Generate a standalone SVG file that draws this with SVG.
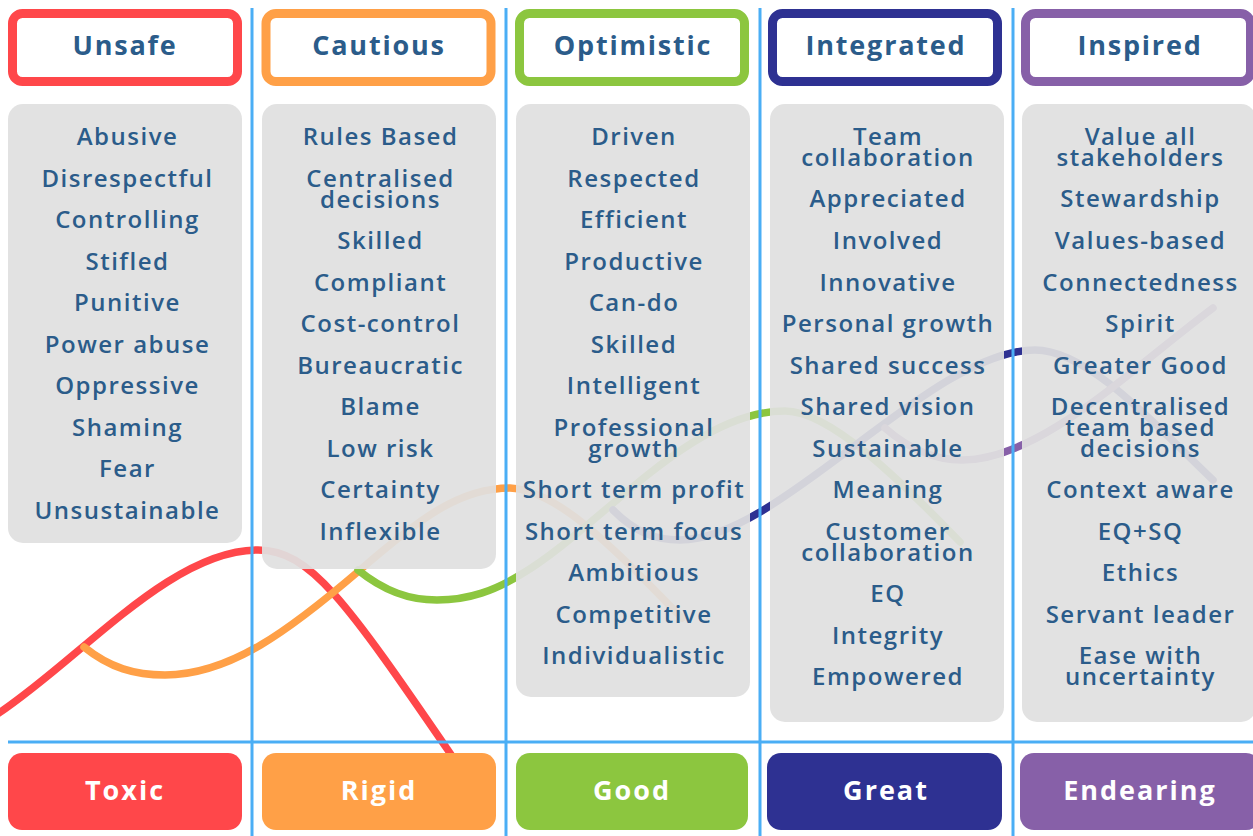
<svg xmlns="http://www.w3.org/2000/svg" width="1253" height="836" viewBox="0 0 1253 836">
  <style>
    .curve { fill: none; stroke-width: 7.5; stroke-linecap: round; }
    .grid { stroke: #4AAEF5; stroke-width: 3; }
    .card { fill: #E0E0E0; fill-opacity: 0.93; }
    .head { fill: #FFFFFF; stroke-width: 9; }
    .htxt { font-family: "Open Sans", "Noto Sans", sans-serif; font-weight: 700; font-size: 27px; letter-spacing: 1.8px; fill: #2B5C8A; text-anchor: middle; }
    .item { font-family: "Open Sans", "Noto Sans", sans-serif; font-weight: 600; font-size: 24px; letter-spacing: 1.5px; fill: #2B5C8A; text-anchor: middle; }
    .ftxt { font-family: "Open Sans", "Noto Sans", sans-serif; font-weight: 700; font-size: 27px; letter-spacing: 2px; fill: #FFFFFF; text-anchor: middle; }
  </style>

  <rect width="1253" height="836" fill="#FFFFFF"/>

  <!-- culture curves, drawn first so the cards veil them -->
  <g id="connectors">
    <path class="curve" stroke="#FF474A" d="M-4,715 C80,660 170,550 258,550 C310,550 345,600 452,756"/>
    <path class="curve" stroke="#FFA047" d="M84,647 C110,668 135,675 165,675 C230,675 290,630 360,570 C420,518 460,488 510,488 C560,490 620,555 682,618"/>
    <path class="curve" stroke="#8CC63F" d="M358,570 C385,592 410,600 437,600 C470,600 495,590 520,575 C600,528 690,411 785,411 C830,411 900,480 960,542"/>
    <path class="curve" stroke="#2E3192" d="M613,510 C635,532 655,540 680,540 C780,540 930,350 1035,350 C1090,350 1160,430 1213,480"/>
    <path class="curve" stroke="#8760A8" d="M885,428 C910,450 935,460 962,460 C1040,460 1130,370 1213,308"/>
  </g>

  <!-- column dividers and base line -->
  <g id="grid">
    <line class="grid" x1="252" y1="8" x2="252" y2="836"/>
    <line class="grid" x1="506" y1="8" x2="506" y2="836"/>
    <line class="grid" x1="760" y1="8" x2="760" y2="836"/>
    <line class="grid" x1="1013" y1="8" x2="1013" y2="836"/>
    <line class="grid" x1="8" y1="742" x2="1253" y2="742"/>
  </g>

  <!-- Unsafe / Toxic -->
  <g id="unsafe">
    <rect class="head" x="12.5" y="13.5" width="225" height="68" rx="10" stroke="#FF474A"/>
    <text class="htxt" x="125" y="55">Unsafe</text>
  </g>
  <g id="unsafe-traits">
    <rect class="card" x="8" y="104" width="234" height="439" rx="15"/>
    <text class="item" x="127.5" y="145">Abusive</text>
    <text class="item" x="127.5" y="187">Disrespectful</text>
    <text class="item" x="127.5" y="228">Controlling</text>
    <text class="item" x="127.5" y="270">Stifled</text>
    <text class="item" x="127.5" y="311">Punitive</text>
    <text class="item" x="127.5" y="353">Power abuse</text>
    <text class="item" x="127.5" y="394">Oppressive</text>
    <text class="item" x="127.5" y="436">Shaming</text>
    <text class="item" x="127.5" y="477">Fear</text>
    <text class="item" x="127.5" y="519">Unsustainable</text>
  </g>
  <g id="toxic">
    <rect x="8" y="753" width="234" height="77" rx="14" fill="#FF474A"/>
    <text class="ftxt" x="125" y="800">Toxic</text>
  </g>

  <!-- Cautious / Rigid -->
  <g id="cautious">
    <rect class="head" x="266" y="13.5" width="225" height="68" rx="10" stroke="#FFA047"/>
    <text class="htxt" x="379" y="55">Cautious</text>
  </g>
  <g id="cautious-traits">
    <rect class="card" x="262" y="104" width="234" height="465" rx="15"/>
    <text class="item" x="380.5" y="145">Rules Based</text>
    <text class="item" x="380.5" y="187">Centralised</text>
    <text class="item" x="380.5" y="208">decisions</text>
    <text class="item" x="380.5" y="249">Skilled</text>
    <text class="item" x="380.5" y="291">Compliant</text>
    <text class="item" x="380.5" y="332">Cost-control</text>
    <text class="item" x="380.5" y="374">Bureaucratic</text>
    <text class="item" x="380.5" y="415">Blame</text>
    <text class="item" x="380.5" y="457">Low risk</text>
    <text class="item" x="380.5" y="498">Certainty</text>
    <text class="item" x="380.5" y="540">Inflexible</text>
  </g>
  <g id="rigid">
    <rect x="262" y="753" width="234" height="77" rx="14" fill="#FFA047"/>
    <text class="ftxt" x="379" y="800">Rigid</text>
  </g>

  <!-- Optimistic / Good -->
  <g id="optimistic">
    <rect class="head" x="519.5" y="13.5" width="225" height="68" rx="10" stroke="#8CC63F"/>
    <text class="htxt" x="633" y="55">Optimistic</text>
  </g>
  <g id="optimistic-traits">
    <rect class="card" x="516" y="104" width="234" height="593" rx="15"/>
    <text class="item" x="634" y="145">Driven</text>
    <text class="item" x="634" y="187">Respected</text>
    <text class="item" x="634" y="228">Efficient</text>
    <text class="item" x="634" y="270">Productive</text>
    <text class="item" x="634" y="311">Can-do</text>
    <text class="item" x="634" y="353">Skilled</text>
    <text class="item" x="634" y="394">Intelligent</text>
    <text class="item" x="634" y="436">Professional</text>
    <text class="item" x="634" y="457">growth</text>
    <text class="item" x="634" y="498">Short term profit</text>
    <text class="item" x="634" y="540">Short term focus</text>
    <text class="item" x="634" y="581">Ambitious</text>
    <text class="item" x="634" y="623">Competitive</text>
    <text class="item" x="634" y="664">Individualistic</text>
  </g>
  <g id="good">
    <rect x="516" y="753" width="232" height="77" rx="14" fill="#8CC63F"/>
    <text class="ftxt" x="632" y="800">Good</text>
  </g>

  <!-- Integrated / Great -->
  <g id="integrated">
    <rect class="head" x="772.5" y="13.5" width="225" height="68" rx="10" stroke="#2E3192"/>
    <text class="htxt" x="886" y="55">Integrated</text>
  </g>
  <g id="integrated-traits">
    <rect class="card" x="770" y="104" width="234" height="618" rx="15"/>
    <text class="item" x="888" y="145">Team</text>
    <text class="item" x="888" y="166">collaboration</text>
    <text class="item" x="888" y="207">Appreciated</text>
    <text class="item" x="888" y="249">Involved</text>
    <text class="item" x="888" y="291">Innovative</text>
    <text class="item" x="888" y="332">Personal growth</text>
    <text class="item" x="888" y="374">Shared success</text>
    <text class="item" x="888" y="415">Shared vision</text>
    <text class="item" x="888" y="457">Sustainable</text>
    <text class="item" x="888" y="498">Meaning</text>
    <text class="item" x="888" y="540">Customer</text>
    <text class="item" x="888" y="561">collaboration</text>
    <text class="item" x="888" y="602">EQ</text>
    <text class="item" x="888" y="644">Integrity</text>
    <text class="item" x="888" y="685">Empowered</text>
  </g>
  <g id="great">
    <rect x="767" y="753" width="235" height="77" rx="14" fill="#2E3192"/>
    <text class="ftxt" x="886" y="800">Great</text>
  </g>

  <!-- Inspired / Endearing -->
  <g id="inspired">
    <rect class="head" x="1025.5" y="13.5" width="225" height="68" rx="10" stroke="#8760A8"/>
    <text class="htxt" x="1140" y="55">Inspired</text>
  </g>
  <g id="inspired-traits">
    <rect class="card" x="1022" y="104" width="234" height="618" rx="15"/>
    <text class="item" x="1140.5" y="145">Value all</text>
    <text class="item" x="1140.5" y="166">stakeholders</text>
    <text class="item" x="1140.5" y="207">Stewardship</text>
    <text class="item" x="1140.5" y="249">Values-based</text>
    <text class="item" x="1140.5" y="291">Connectedness</text>
    <text class="item" x="1140.5" y="332">Spirit</text>
    <text class="item" x="1140.5" y="374">Greater Good</text>
    <text class="item" x="1140.5" y="415">Decentralised</text>
    <text class="item" x="1140.5" y="436">team based</text>
    <text class="item" x="1140.5" y="457">decisions</text>
    <text class="item" x="1140.5" y="498">Context aware</text>
    <text class="item" x="1140.5" y="540">EQ+SQ</text>
    <text class="item" x="1140.5" y="581">Ethics</text>
    <text class="item" x="1140.5" y="623">Servant leader</text>
    <text class="item" x="1140.5" y="664">Ease with</text>
    <text class="item" x="1140.5" y="685">uncertainty</text>
  </g>
  <g id="endearing">
    <rect x="1020" y="753" width="240" height="77" rx="14" fill="#8760A8"/>
    <text class="ftxt" x="1140" y="800">Endearing</text>
  </g>
</svg>
